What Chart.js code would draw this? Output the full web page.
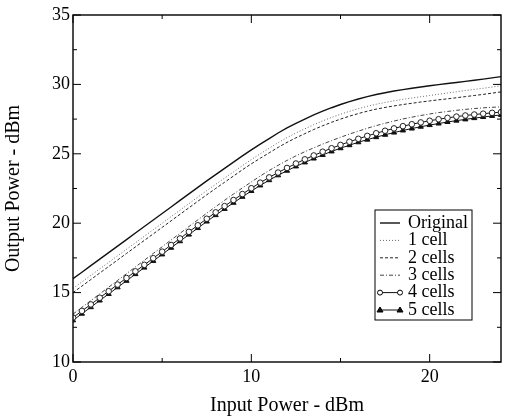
<!DOCTYPE html>
<html>
<head>
<meta charset="utf-8">
<style>
  html, body { margin: 0; padding: 0; background: #fff; }
  #wrap { width: 506px; height: 418px; }
</style>
<script src="https://cdn.jsdelivr.net/npm/chart.js@4/dist/chart.umd.min.js"></script>
</head>
<body>
<div id="wrap"><canvas id="chartPower"></canvas></div>
<script>
// input power, dBm
const inputPower = [0, 0.5, 1, 1.5, 2, 2.5, 3, 3.5, 4, 4.5, 5, 5.5, 6, 6.5, 7, 7.5, 8, 8.5, 9, 9.5,
    10, 10.5, 11, 11.5, 12, 12.5, 13, 13.5, 14, 14.5, 15, 15.5, 16, 16.5, 17, 17.5, 18, 18.5, 19, 19.5,
    20, 20.5, 21, 21.5, 22, 22.5, 23, 23.5, 24];

// output power, dBm
const original = [16.00, 16.47, 16.94, 17.41, 17.88, 18.35, 18.82, 19.29, 19.76, 20.23, 20.70, 21.17, 21.64, 22.11, 22.58, 23.05, 23.50, 23.95, 24.40, 24.85,
    25.28, 25.70, 26.10, 26.50, 26.87, 27.20, 27.50, 27.80, 28.07, 28.32, 28.55, 28.76, 28.95, 29.12, 29.27, 29.40, 29.52, 29.62, 29.72, 29.81,
    29.90, 29.98, 30.06, 30.14, 30.22, 30.30, 30.38, 30.47, 30.56];
const cell1 = [15.30, 15.77, 16.24, 16.71, 17.18, 17.65, 18.12, 18.59, 19.06, 19.53, 20.00, 20.47, 20.94, 21.41, 21.88, 22.35, 22.80, 23.25, 23.70, 24.15,
    24.58, 25.00, 25.40, 25.80, 26.17, 26.50, 26.80, 27.10, 27.37, 27.62, 27.85, 28.06, 28.25, 28.42, 28.57, 28.70, 28.82, 28.92, 29.02, 29.11,
    29.20, 29.29, 29.38, 29.47, 29.56, 29.64, 29.72, 29.81, 29.90];
const cells2 = [15.00, 15.47, 15.94, 16.41, 16.88, 17.35, 17.82, 18.29, 18.76, 19.23, 19.70, 20.17, 20.64, 21.11, 21.58, 22.05, 22.50, 22.95, 23.40, 23.85,
    24.28, 24.68, 25.07, 25.46, 25.82, 26.15, 26.45, 26.75, 27.02, 27.27, 27.50, 27.71, 27.90, 28.07, 28.22, 28.34, 28.45, 28.55, 28.64, 28.73,
    28.81, 28.89, 28.96, 29.04, 29.12, 29.20, 29.28, 29.37, 29.46];
const cells3 = [13.45, 13.94, 14.42, 14.91, 15.39, 15.88, 16.36, 16.85, 17.33, 17.82, 18.30, 18.79, 19.27, 19.76, 20.24, 20.72, 21.19, 21.65, 22.10, 22.54,
    22.97, 23.40, 23.80, 24.17, 24.52, 24.85, 25.15, 25.43, 25.70, 25.95, 26.19, 26.42, 26.63, 26.84, 27.03, 27.20, 27.36, 27.51, 27.64, 27.76,
    27.87, 27.97, 28.05, 28.13, 28.20, 28.26, 28.31, 28.35, 28.38];
const cells4 = [13.20, 13.68, 14.15, 14.63, 15.10, 15.58, 16.05, 16.53, 17.00, 17.48, 17.95, 18.43, 18.90, 19.38, 19.85, 20.32, 20.78, 21.23, 21.67, 22.10,
    22.52, 22.92, 23.30, 23.65, 23.98, 24.30, 24.60, 24.88, 25.15, 25.40, 25.64, 25.87, 26.08, 26.29, 26.48, 26.66, 26.83, 26.99, 27.13, 27.26,
    27.38, 27.49, 27.59, 27.68, 27.76, 27.83, 27.89, 27.95, 28.00];
const cells5 = [13.00, 13.48, 13.95, 14.43, 14.90, 15.38, 15.85, 16.33, 16.80, 17.28, 17.75, 18.23, 18.70, 19.18, 19.65, 20.12, 20.58, 21.03, 21.47, 21.90,
    22.32, 22.72, 23.10, 23.45, 23.78, 24.09, 24.38, 24.66, 24.92, 25.17, 25.40, 25.62, 25.83, 26.02, 26.20, 26.37, 26.53, 26.68, 26.82, 26.95,
    27.07, 27.18, 27.29, 27.39, 27.48, 27.57, 27.65, 27.73, 27.80];

const seriesNames = ["Original", "1 cell", "2 cells", "3 cells", "4 cells", "5 cells"];

const serif = "'Liberation Serif', 'DejaVu Serif', serif";

function toPoints(values) {
    return values.map((v, i) => ({ x: inputPower[i], y: v }));
}

// frame + inward ticks like the old plotting package
const framePlugin = {
    id: "frame",
    afterDraw(c) {
        const { ctx, chartArea: a } = c;
        const xs = c.scales.x, ys = c.scales.y;
        ctx.save();
        ctx.strokeStyle = "#000";
        ctx.lineWidth = 1.4;
        ctx.strokeRect(a.left, a.top, a.right - a.left, a.bottom - a.top);
        ctx.lineWidth = 1;
        ctx.beginPath();
        for (let v = 0; v <= 24; v += 5) {
            const len = v % 10 === 0 ? 8 : 4;
            const px = xs.getPixelForValue(v);
            ctx.moveTo(px, a.bottom); ctx.lineTo(px, a.bottom - len);
            ctx.moveTo(px, a.top); ctx.lineTo(px, a.top + len);
        }
        for (let v = 10; v <= 35; v += 2.5) {
            const len = v % 5 === 0 ? 8 : 4;
            const py = ys.getPixelForValue(v);
            ctx.moveTo(a.left, py); ctx.lineTo(a.left + len, py);
            ctx.moveTo(a.right, py); ctx.lineTo(a.right - len, py);
        }
        ctx.stroke();
        ctx.restore();
    }
};

// boxed legend inside the plot
const legendPlugin = {
    id: "boxLegend",
    afterDraw(c) {
        const { ctx, chartArea: a } = c;
        const left = a.right - 126, right = a.right - 29;
        const top = a.top + 195, bottom = a.top + 305;
        ctx.save();
        ctx.fillStyle = "#fff";
        ctx.fillRect(left, top, right - left, bottom - top);
        ctx.strokeStyle = "#000";
        ctx.lineWidth = 1;
        ctx.strokeRect(left, top, right - left, bottom - top);
        ctx.font = "18px " + serif;
        ctx.textBaseline = "middle";
        c.data.datasets.forEach((ds, i) => {
            const y = top + 13 + i * 17.4;
            const x0 = left + 5, x1 = left + 25;
            ctx.strokeStyle = ds.borderColor;
            ctx.lineWidth = ds.borderWidth;
            ctx.setLineDash(ds.borderDash || []);
            ctx.beginPath();
            ctx.moveTo(x0, y); ctx.lineTo(x1, y);
            ctx.stroke();
            ctx.setLineDash([]);
            if (ds.pointRadius > 0) {
                [x0, x1].forEach(px => {
                    ctx.lineWidth = 1;
                    ctx.strokeStyle = "#000";
                    ctx.fillStyle = ds.pointBackgroundColor;
                    ctx.beginPath();
                    if (ds.pointStyle === "triangle") {
                        ctx.moveTo(px, y - 3); ctx.lineTo(px + 3, y + 2); ctx.lineTo(px - 3, y + 2);
                        ctx.closePath();
                    } else {
                        ctx.arc(px, y, 2.5, 0, Math.PI * 2);
                    }
                    ctx.fill(); ctx.stroke();
                });
            }
            ctx.fillStyle = "#000";
            ctx.fillText(ds.label, left + 33, y);
        });
        ctx.restore();
    }
};

const chartCtx = document.getElementById("chartPower").getContext("2d");

const chart = new Chart(chartCtx, {
    type: "line",
    data: {
        datasets: [
            { label: seriesNames[0], data: toPoints(original), borderColor: "#111", borderWidth: 1.4, pointRadius: 0 },
            { label: seriesNames[1], data: toPoints(cell1), borderColor: "#666", borderWidth: 1, borderDash: [1, 2], pointRadius: 0 },
            { label: seriesNames[2], data: toPoints(cells2), borderColor: "#222", borderWidth: 1, borderDash: [3, 2], pointRadius: 0 },
            { label: seriesNames[3], data: toPoints(cells3), borderColor: "#444", borderWidth: 1, borderDash: [4, 2, 1, 2], pointRadius: 0 },
            { label: seriesNames[4], data: toPoints(cells4), borderColor: "#111", borderWidth: 1, pointRadius: 2.8,
              pointStyle: "circle", pointBackgroundColor: "#fff", pointBorderColor: "#222", pointBorderWidth: 1 },
            { label: seriesNames[5], data: toPoints(cells5), borderColor: "#111", borderWidth: 1, pointRadius: 3,
              pointStyle: "triangle", pointBackgroundColor: "#111", pointBorderColor: "#111", pointBorderWidth: 1 }
        ]
    },
    options: {
        responsive: true,
        maintainAspectRatio: false,
        animation: false,
        layout: { padding: { top: 15, right: 2, bottom: 0, left: 0 } },
        elements: { line: { tension: 0 } },
        plugins: {
            legend: { display: false },
            tooltip: { enabled: false }
        },
        scales: {
            x: {
                type: "linear",
                min: 0,
                max: 24,
                afterFit: s => { s.height = 56; },
                grid: { display: false, drawTicks: false },
                border: { display: false },
                ticks: { stepSize: 10, includeBounds: false, padding: 4, color: "#000", font: { family: serif, size: 18 } },
                title: { display: true, text: "Input Power - dBm", color: "#000", font: { family: serif, size: 20 }, padding: { top: 0, bottom: 0 } }
            },
            y: {
                min: 10,
                max: 35,
                afterFit: s => { s.width = 73; },
                grid: { display: false, drawTicks: false },
                border: { display: false },
                ticks: { stepSize: 5, padding: 3, color: "#000", font: { family: serif, size: 18 } },
                title: { display: true, text: "Output Power - dBm", color: "#000", font: { family: serif, size: 20 }, padding: { top: 2, bottom: 0 } }
            }
        }
    },
    plugins: [framePlugin, legendPlugin]
});
</script>
</body>
</html>
